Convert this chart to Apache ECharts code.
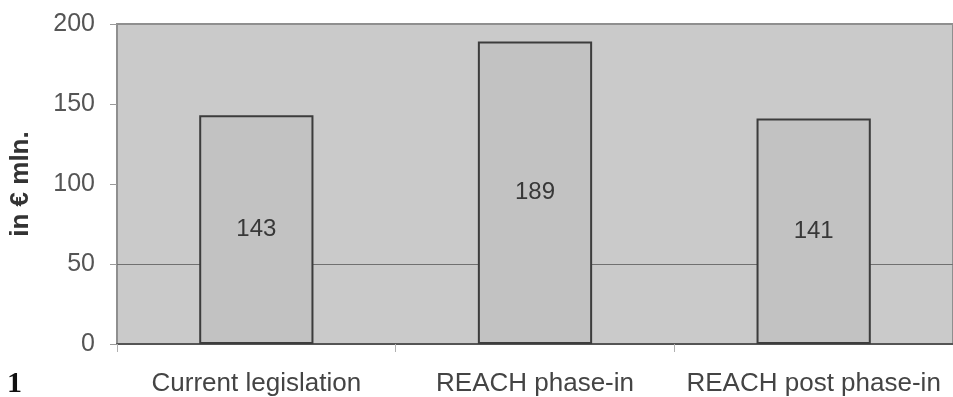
<!DOCTYPE html>
<html>
<head>
<meta charset="utf-8">
<style>
  html, body { margin: 0; padding: 0; background: #ffffff; }
  #chart { width: 953px; height: 397px; }
</style>
<script src="https://cdn.jsdelivr.net/npm/echarts@6/dist/echarts.min.js"></script>
</head>
<body>
<div id="chart"></div>
<script>
// Cost scenarios (in € mln.)
const categories = ['Current legislation', 'REACH phase-in', 'REACH post phase-in'];
const costValues = [143, 189, 141];
const yTicks = [0, 50, 100, 150, 200];
const referenceLineValue = 50;
const axisTitle = 'in € mln.';
const figureNumber = '1';

const chart = echarts.init(document.getElementById('chart'), null, { renderer: 'canvas' });

const option = {
  animation: false,
  backgroundColor: '#ffffff',
  grid: {
    left: 117,
    top: 24,
    bottom: 52,
    right: -9,
    show: true,
    backgroundColor: '#cacaca',
    borderColor: '#8f8f8f',
    borderWidth: 2
  },
  graphic: [{
    type: 'text',
    left: 7,
    top: 369,
    style: {
      text: figureNumber,
      font: 'bold 30px "Liberation Serif", serif',
      fill: '#111'
    }
  }],
  xAxis: {
    type: 'category',
    data: categories,
    boundaryGap: true,
    axisLine: { show: true, lineStyle: { color: '#555', width: 2 } },
    axisTick: { show: true, length: 8, lineStyle: { color: '#b0b0b0', width: 1 } },
    axisLabel: {
      interval: 0,
      hideOverlap: false,
      margin: 27,
      fontFamily: '"Liberation Sans", Arial, sans-serif',
      fontSize: 26,
      color: '#444'
    },
    splitLine: { show: false }
  },
  yAxis: {
    type: 'value',
    min: yTicks[0],
    max: yTicks[yTicks.length - 1],
    interval: 50,
    name: axisTitle,
    nameLocation: 'middle',
    nameRotate: 90,
    nameGap: 83,
    nameTextStyle: {
      fontFamily: '"Liberation Sans", Arial, sans-serif',
      fontWeight: 'bold',
      fontSize: 26,
      color: '#333'
    },
    axisLine: { show: true, lineStyle: { color: '#8f8f8f', width: 2 } },
    axisTick: { show: true, length: 7, lineStyle: { color: '#9a9a9a', width: 1 } },
    axisLabel: {
      margin: 22,
      fontFamily: '"Liberation Sans", Arial, sans-serif',
      fontSize: 25,
      color: '#555'
    },
    splitLine: { show: false }
  },
  series: [
    {
      // reference line drawn behind the bars
      type: 'line',
      data: [],
      z: 1,
      markLine: {
        silent: true,
        z: 1,
        symbol: ['none', 'none'],
        label: { show: false },
        lineStyle: { color: '#707070', width: 1, type: 'solid' },
        data: [{ yAxis: referenceLineValue }]
      }
    },
    {
      type: 'bar',
      data: costValues,
      z: 3,
      barWidth: '41%',
      itemStyle: {
        color: '#c2c2c2',
        borderColor: '#3c3c3c',
        borderWidth: 2
      },
      label: {
        show: true,
        position: 'inside',
        fontFamily: '"Liberation Sans", Arial, sans-serif',
        fontSize: 24,
        color: '#383838'
      }
    }
  ]
};

chart.setOption(option);
</script>
</body>
</html>
